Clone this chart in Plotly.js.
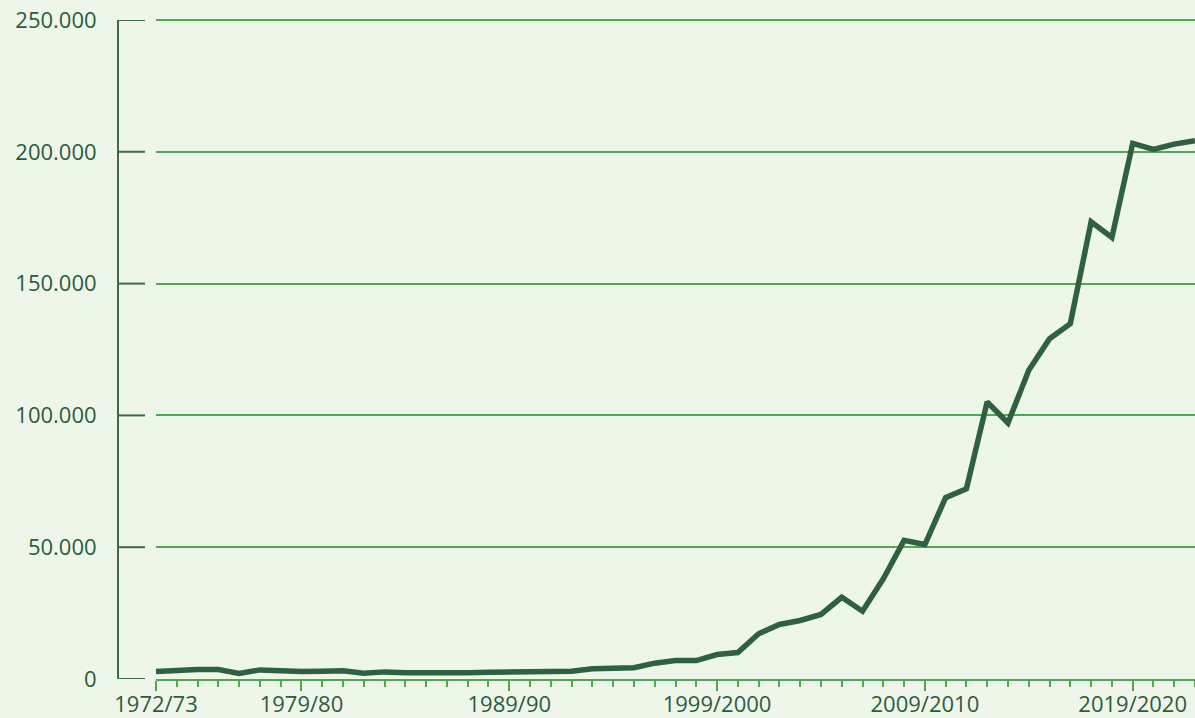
<!DOCTYPE html>
<html>
<head>
<meta charset="utf-8">
<script src="https://cdn.plot.ly/plotly-3.0.1.min.js"></script>
<style>
  html, body { margin: 0; padding: 0; background: #EEF6EA; }
  #chart { width: 1195px; height: 718px; }
</style>
</head>
<body>
<div id="chart"></div>
<script>
const categories = [
  "1972/73","1973/74","1974/75","1975/76","1976/77","1977/78","1978/79","1979/80",
  "1980/81","1981/82","1982/83","1983/84","1984/85","1985/86","1986/87","1987/88",
  "1988/89","1989/90","1990/91","1991/92","1992/93","1993/94","1994/95","1995/96",
  "1996/97","1997/98","1998/99","1999/2000","2000/2001","2001/2002","2002/2003",
  "2003/2004","2004/2005","2005/2006","2006/2007","2007/2008","2008/2009","2009/2010",
  "2010/2011","2011/2012","2012/2013","2013/2014","2014/2015","2015/2016","2016/2017",
  "2017/2018","2018/2019","2019/2020","2020/2021","2021/2022","2022/2023"
];
const values = [
  2850, 3350, 3600, 3600, 2100, 3450, 2950, 2850,
  2950, 3100, 2200, 2700, 2350, 2200, 2200, 2350,
  2600, 2700, 2950, 3100, 2950, 3850, 4100, 4250,
  6000, 7000, 7000, 9300, 10050, 17150, 20700,
  22200, 24500, 31000, 25700, 38000, 52600, 51000,
  68800, 72200, 105100, 97100, 117100, 129100, 134800,
  173400, 167500, 203200, 200900, 202900, 204200
];
const labeledTicks = ["1972/73", "1979/80", "1989/90", "1999/2000", "2009/2010", "2019/2020"];
const yTicks = [0, 50000, 100000, 150000, 200000, 250000];
const yTickText = ["0", "50.000", "100.000", "150.000", "200.000", "250.000"];

const xIdx = categories.map((c, i) => i);
const tickIdx = labeledTicks.map(t => categories.indexOf(t));

const textColor = "#2A5C3C";
const gridColor = "#52A852";
const axisDark = "#3A6A4A";
const fontFam = "'Open Sans', 'Noto Sans', sans-serif";

const trace = {
  x: xIdx,
  y: values,
  text: categories,
  type: "scatter",
  mode: "lines",
  line: { color: "#2D6141", width: 5.5 },
  hovertemplate: "%{text}: %{y}<extra></extra>"
};

const W = 1195, H = 718, ml = 118, mr = 0, mt = 20, mb = 39;
const plotW = W - ml - mr;
const xStart = (156 - ml) / plotW;
const yTickLenPaper = 27 / plotW;

const shapes = [];
yTicks.forEach(v => {
  shapes.push({
    type: "line", xref: "paper", yref: "y",
    x0: 0, x1: yTickLenPaper, y0: v, y1: v,
    line: { color: axisDark, width: 2 }
  });
});
shapes.push({
  type: "line", xref: "paper", yref: "paper",
  x0: xStart, x1: 1, y0: 1, y1: 1,
  line: { color: gridColor, width: 2 }
});

const layout = {
  width: W, height: H,
  margin: { l: ml, r: mr, t: mt, b: mb, pad: 0 },
  paper_bgcolor: "#EEF6EA",
  plot_bgcolor: "#EEF6EA",
  showlegend: false,
  font: { family: fontFam, size: 22, color: textColor },
  shapes: shapes,
  xaxis: {
    type: "linear",
    domain: [xStart, 1],
    range: [0, categories.length - 1],
    tickvals: tickIdx,
    ticktext: labeledTicks,
    ticks: "outside",
    ticklen: 10,
    tickwidth: 2,
    tickcolor: gridColor,
    showline: true,
    linecolor: gridColor,
    linewidth: 2,
    showgrid: false,
    zeroline: false,
    ticklabelstandoff: -5,
    minor: { dtick: 1, tick0: 0, ticks: "outside", ticklen: 6, tickwidth: 2, tickcolor: gridColor, showgrid: false },
    tickfont: { family: fontFam, size: 22, color: textColor },
    fixedrange: true
  },
  yaxis: {
    anchor: "free",
    position: 0,
    range: [0, 250000],
    tickvals: yTicks,
    ticktext: yTickText,
    ticks: "",
    showline: true,
    linecolor: axisDark,
    linewidth: 2,
    showgrid: true,
    gridcolor: gridColor,
    gridwidth: 2,
    zeroline: false,
    ticklabelstandoff: 16,
    tickfont: { family: fontFam, size: 22, color: textColor },
    fixedrange: true
  }
};

Plotly.newPlot("chart", [trace], layout, { displayModeBar: false, staticPlot: true });
</script>
</body>
</html>
